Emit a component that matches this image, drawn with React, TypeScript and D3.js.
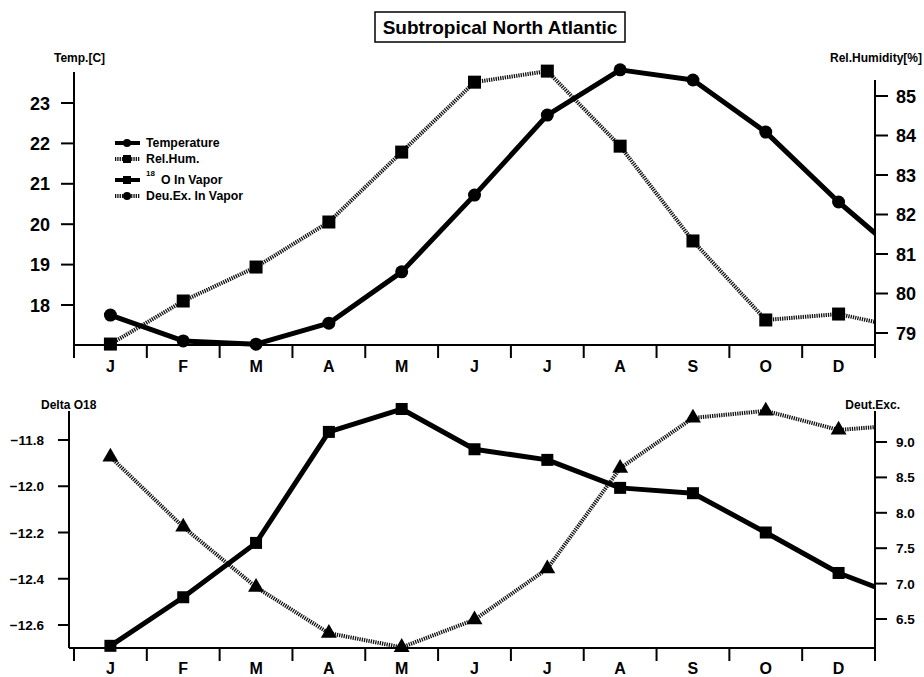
import React from "react";
import * as d3 from "d3";

// Month labels (November is not labelled in the original figure)
const months = ["J", "F", "M", "A", "M", "J", "J", "A", "S", "O", "D"];
// Series values; the 12th entry is the next value beyond the right edge (line runs off the plot)
const temperature = [17.75, 17.11, 17.03, 17.55, 18.82, 20.72, 22.7, 23.82, 23.57, 22.28, 20.55, 19.01];
const relHumidity = [78.72, 79.81, 80.67, 81.81, 83.58, 85.35, 85.63, 83.73, 81.33, 79.33, 79.48, 79.08];
const delta18O = [-12.69, -12.48, -12.245, -11.765, -11.666, -11.84, -11.886, -12.007, -12.03, -12.2, -12.375, -12.495];
const deutExcess = [8.79, 7.8, 6.95, 6.3, 6.1, 6.49, 7.21, 8.63, 9.34, 9.44, 9.17, 9.25];

const tempTicks = [18, 19, 20, 21, 22, 23];
const humTicks = [79, 80, 81, 82, 83, 84, 85];
const d18Ticks = [-12.6, -12.4, -12.2, -12.0, -11.8];
const deutTicks = [6.5, 7.0, 7.5, 8.0, 8.5, 9.0];

const FONT = "'Liberation Sans', Arial, Helvetica, sans-serif";
const L = 74;
const R = 875;

const x = d3.scaleLinear().domain([-0.5, 10.5]).range([L, R]);
const yTemp = d3.scaleLinear().domain([18, 23]).range([305, 103]);
const yHum = d3.scaleLinear().domain([79, 85]).range([333, 96]);
const yD18 = d3.scaleLinear().domain([-12.6, -11.8]).range([625, 440]);
const yDeut = d3.scaleLinear().domain([6.5, 9.0]).range([619, 442]);

const bandEdges = d3.range(0, 12).map((i) => x(i - 0.5));

function mkLine(vals: number[], y: d3.ScaleLinear<number, number>) {
  return d3
    .line<number>()
    .x((_, i) => x(i))
    .y((d) => y(d))(vals) as string;
}

const sq = (cx: number, cy: number, s: number, k: string) => (
  <rect key={k} x={cx - s / 2} y={cy - s / 2} width={s} height={s} fill="#000" />
);
const tri = (cx: number, cy: number, area: number, k: string, rot = 0) => (
  <path
    key={k}
    d={d3.symbol().type(d3.symbolTriangle).size(area)() as string}
    transform={`translate(${cx},${cy}) rotate(${rot})`}
    fill="#000"
  />
);

const SOLID = { fill: "none", stroke: "#000", strokeWidth: 5, strokeLinejoin: "round" as const };
const DOTTED = { fill: "none", stroke: "#111", strokeWidth: 4, strokeDasharray: "1.3 1" };

function XAxis({ y, labelY, leftExt }: { y: number; labelY: number; leftExt: number }) {
  return (
    <g>
      <line x1={leftExt} x2={R} y1={y} y2={y} stroke="#000" strokeWidth={2} />
      {bandEdges.map((bx, i) => (
        <line key={i} x1={bx} x2={bx} y1={y} y2={y + 13} stroke="#000" strokeWidth={2} />
      ))}
      {months.map((m, i) => (
        <text key={i} x={x(i)} y={labelY} textAnchor="middle" fontFamily={FONT} fontWeight="bold" fontSize={16}>
          {m}
        </text>
      ))}
    </g>
  );
}

export default function App() {
  const n = 11;
  return (
    <svg width={924} height={677} style={{ position: "absolute", left: 0, top: 0, background: "#fff" }}>
      <defs>
        <clipPath id="plotclip">
          <rect x={L} y={0} width={R - L} height={677} />
        </clipPath>
      </defs>
      <rect x={0} y={0} width={924} height={677} fill="#fff" />

      {/* Title */}
      <rect x={375} y={12} width={250} height={30} fill="#fff" stroke="#000" strokeWidth={1.5} />
      <text x={500} y={34} textAnchor="middle" fontFamily={FONT} fontWeight="bold" fontSize={19}>
        Subtropical North Atlantic
      </text>

      {/* ---------- Top panel ---------- */}
      <text x={54} y={62} fontFamily={FONT} fontWeight="bold" fontSize={12}>Temp.[C]</text>
      <text x={922} y={62} textAnchor="end" fontFamily={FONT} fontWeight="bold" fontSize={12}>Rel.Humidity[%]</text>
      <line x1={L} x2={L} y1={72} y2={358} stroke="#000" strokeWidth={2} />
      {tempTicks.map((t) => (
        <g key={t}>
          <line x1={L - 13} x2={L} y1={yTemp(t)} y2={yTemp(t)} stroke="#000" strokeWidth={2} />
          <text x={50} y={yTemp(t) + 6.5} textAnchor="end" fontFamily={FONT} fontWeight="bold" fontSize={18}>
            {d3.format("d")(t)}
          </text>
        </g>
      ))}
      <line x1={R} x2={R} y1={80} y2={345} stroke="#000" strokeWidth={2} />
      {humTicks.map((t) => (
        <g key={t}>
          <line x1={R} x2={R + 13} y1={yHum(t)} y2={yHum(t)} stroke="#000" strokeWidth={2} />
          <text x={896} y={yHum(t) + 6.5} fontFamily={FONT} fontWeight="bold" fontSize={18}>
            {d3.format("d")(t)}
          </text>
        </g>
      ))}
      <XAxis y={345} labelY={372} leftExt={L} />

      <g clipPath="url(#plotclip)">
        <path d={mkLine(relHumidity, yHum)} {...DOTTED} />
        <path d={mkLine(temperature, yTemp)} {...SOLID} />
      </g>
      {relHumidity.slice(0, n).map((v, i) => sq(x(i), yHum(v), 13, "h" + i))}
      {temperature.slice(0, n).map((v, i) => (
        <circle key={"t" + i} cx={x(i)} cy={yTemp(v)} r={6.5} fill="#000" />
      ))}

      {/* Legend */}
      <g fontFamily={FONT} fontWeight="bold" fontSize={12.3}>
        <line x1={115} x2={140} y1={143} y2={143} {...SOLID} strokeWidth={4} />
        <circle cx={127} cy={143} r={4} fill="#000" />
        <text x={146} y={147}>Temperature</text>

        <line x1={115} x2={140} y1={159} y2={159} {...DOTTED} />
        {sq(127, 159, 8, "lg2")}
        <text x={146} y={163}>Rel.Hum.</text>

        <line x1={115} x2={140} y1={180} y2={180} {...SOLID} strokeWidth={4} />
        {sq(127, 180, 8, "lg3")}
        <text x={146} y={176} fontSize={8}>18</text>
        <text x={161} y={184}>O In Vapor</text>

        <line x1={115} x2={140} y1={196} y2={196} {...DOTTED} />
        <circle cx={127} cy={196} r={4} fill="#000" />
        <text x={146} y={200}>Deu.Ex. In Vapor</text>
      </g>

      {/* ---------- Bottom panel ---------- */}
      <text x={41} y={409} fontFamily={FONT} fontWeight="bold" fontSize={12}>Delta O18</text>
      <text x={900} y={409} textAnchor="end" fontFamily={FONT} fontWeight="bold" fontSize={12}>Deut.Exc.</text>
      <line x1={69} x2={69} y1={411} y2={648} stroke="#000" strokeWidth={2} />
      {d18Ticks.map((t) => (
        <g key={t}>
          <line x1={58} x2={69} y1={yD18(t)} y2={yD18(t)} stroke="#000" strokeWidth={2} />
          <text x={44} y={yD18(t) + 5} textAnchor="end" fontFamily={FONT} fontWeight="bold" fontSize={13.5}>
            {d3.format(".1f")(t)}
          </text>
        </g>
      ))}
      <line x1={R} x2={R} y1={411} y2={648} stroke="#000" strokeWidth={2} />
      {deutTicks.map((t) => (
        <g key={t}>
          <line x1={R} x2={R + 12} y1={yDeut(t)} y2={yDeut(t)} stroke="#000" strokeWidth={2} />
          <text x={896} y={yDeut(t) + 5} fontFamily={FONT} fontWeight="bold" fontSize={13.5}>
            {d3.format(".1f")(t)}
          </text>
        </g>
      ))}
      <XAxis y={648} labelY={674} leftExt={69} />

      <g clipPath="url(#plotclip)">
        <path d={mkLine(deutExcess, yDeut)} {...DOTTED} />
        <path d={mkLine(delta18O, yD18)} {...SOLID} />
      </g>
      {deutExcess.slice(0, n).map((v, i) => tri(x(i), yDeut(v), 110, "e" + i))}
      {delta18O.slice(0, n).map((v, i) => sq(x(i), yD18(v), 12, "o" + i))}
    </svg>
  );
}
